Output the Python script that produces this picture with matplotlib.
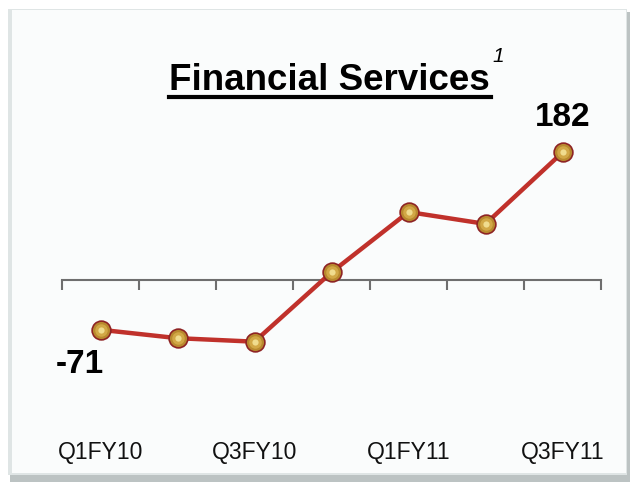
import matplotlib
matplotlib.use("Agg")
import matplotlib.pyplot as plt
from matplotlib.patches import Rectangle
import matplotlib.transforms as mtransforms

plt.rcParams['font.family'] = ['Liberation Sans', 'DejaVu Sans']

quarters = ['Q1FY10', 'Q2FY10', 'Q3FY10', 'Q4FY10', 'Q1FY11', 'Q2FY11', 'Q3FY11']
values = [-71, -83, -88, 11, 97, 80, 182]
shown_labels = ['Q1FY10', 'Q3FY10', 'Q1FY11', 'Q3FY11']

W, H = 633, 485
fig = plt.figure(figsize=(W / 100, H / 100), dpi=100)
fig.patch.set_facecolor('white')

# card frame with a soft shadow (kept behind the axes)
fig.patches.append(Rectangle((10 / W, 2 / H), 620 / W, 470 / H, transform=fig.transFigure,
                             facecolor='#bcc3c3', edgecolor='none', zorder=-3))
fig.patches.append(Rectangle((8 / W, 9 / H), 619 / W, 466 / H, transform=fig.transFigure,
                             facecolor='#dfe5e5', edgecolor='none', zorder=-2))
fig.patches.append(Rectangle((12 / W, 11 / H), 614 / W, 463 / H, transform=fig.transFigure,
                             facecolor='#fafcfc', edgecolor='none', zorder=-1))

# axes: x from -0.5..6.5 -> px 62..601, y zero at ~281px
ax = fig.add_axes([62 / W, (H - 420) / H, (601 - 62) / W, 320 / H])
ax.set_facecolor('none')
x = list(range(len(quarters)))
ax.set_xlim(-0.5, len(quarters) - 0.5)
ax.set_ylim(-198.3, 258.2)

for s in ['top', 'right', 'left']:
    ax.spines[s].set_visible(False)
ax.spines['bottom'].set_position(('data', 0))
ax.spines['bottom'].set_color('#6e6e6e')
ax.spines['bottom'].set_linewidth(1.5)
ax.set_yticks([])
ax.set_xticks([i - 0.5 for i in range(len(quarters) + 1)])
ax.tick_params(axis='x', direction='out', length=7, width=1.5, color='#6e6e6e', labelbottom=False)

ax.plot(x, values, color='#c0312b', linewidth=3.2, zorder=3, solid_capstyle='round')
# golden sphere markers: dark rim, gold body, light highlight
ax.plot(x, values, linestyle='none', marker='o', markersize=13.5, markerfacecolor='#b8892e',
        markeredgecolor='#8e2424', markeredgewidth=1.2, zorder=4)
ax.plot(x, values, linestyle='none', marker='o', markersize=9, markerfacecolor='#d2a846',
        markeredgecolor='none', zorder=5)
ax.plot(x, values, linestyle='none', marker='o', markersize=4.5, markerfacecolor='#f0dc8e',
        markeredgecolor='none', zorder=6)

# category labels along the bottom
trans = mtransforms.blended_transform_factory(ax.transData, fig.transFigure)
for i, q in enumerate(quarters):
    if q in shown_labels:
        ax.text(i, (H - 453) / H, q, transform=trans, ha='center', va='center',
                fontsize=16.5, color='#111111')

# data labels for first and last
ax.annotate(str(values[0]), (x[0], values[0]), xytext=(-15, -24), textcoords='offset points',
            ha='center', va='center', fontsize=24, fontweight='bold')
ax.annotate(str(values[-1]), (x[-1], values[-1]), xytext=(0, 25.5), textcoords='offset points',
            ha='center', va='center', fontsize=24, fontweight='bold')

# title with underline and superscript
fig.text(329 / W, (H - 80) / H, 'Financial Services', ha='center', va='center',
         fontsize=26.5, fontweight='bold')
fig.add_artist(plt.Line2D([169 / W, 491 / W], [(H - 98) / H, (H - 98) / H],
                          color='black', linewidth=3))
fig.text(498 / W, (H - 56) / H, '1', ha='center', va='center', fontsize=15, style='italic')

fig.savefig('out.png', dpi=100)
